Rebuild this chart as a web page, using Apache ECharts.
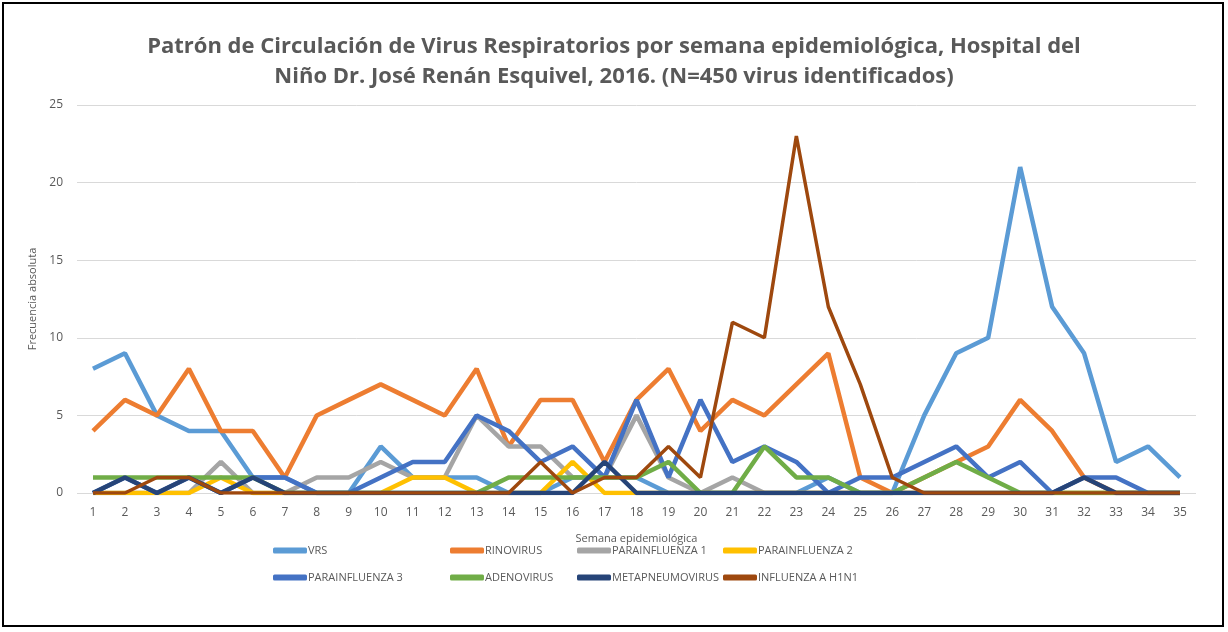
<!DOCTYPE html>
<html>
<head>
<meta charset="utf-8">
<script src="https://cdn.jsdelivr.net/npm/echarts@6/dist/echarts.min.js"></script>
<style>
  html, body { margin: 0; padding: 0; background: #fff; }
  #main { width: 1228px; height: 632px; }
</style>
</head>
<body>
<div id="main"></div>
<script>
// semanas epidemiológicas 1..35
var semanas = ['1','2','3','4','5','6','7','8','9','10','11','12','13','14','15','16','17','18','19','20','21','22','23','24','25','26','27','28','29','30','31','32','33','34','35'];

var vrs            = [8, 9, 5, 4, 4, 1, 1, 0, 0, 3, 1, 1, 1, 0, 0, 1, 1, 1, 0, 0, 0, 0, 0, 1, 0, 0, 5, 9, 10, 21, 12, 9, 2, 3, 1];
var rinovirus      = [4, 6, 5, 8, 4, 4, 1, 5, 6, 7, 6, 5, 8, 3, 6, 6, 2, 6, 8, 4, 6, 5, 7, 9, 1, 0, 1, 2, 3, 6, 4, 1, 0, 0, 0];
var parainf1       = [0, 0, 0, 0, 2, 0, 0, 1, 1, 2, 1, 1, 5, 3, 3, 1, 1, 5, 1, 0, 1, 0, 0, 0, 0, 0, 0, 0, 0, 0, 0, 0, 0, 0, 0];
var parainf2       = [0, 0, 0, 0, 1, 0, 0, 0, 0, 0, 1, 1, 0, 0, 0, 2, 0, 0, 0, 0, 0, 0, 0, 0, 0, 0, 0, 0, 0, 0, 0, 0, 0, 0, 0];
var parainf3       = [0, 1, 0, 1, 0, 1, 1, 0, 0, 1, 2, 2, 5, 4, 2, 3, 1, 6, 1, 6, 2, 3, 2, 0, 1, 1, 2, 3, 1, 2, 0, 1, 1, 0, 0];
var adenovirus     = [1, 1, 1, 1, 1, 1, 0, 0, 0, 0, 0, 0, 0, 1, 1, 1, 1, 1, 2, 0, 0, 3, 1, 1, 0, 0, 1, 2, 1, 0, 0, 0, 0, 0, 0];
var metapneumo     = [0, 1, 0, 1, 0, 1, 0, 0, 0, 0, 0, 0, 0, 0, 0, 0, 2, 0, 0, 0, 0, 0, 0, 0, 0, 0, 0, 0, 0, 0, 0, 1, 0, 0, 0];
var h1n1           = [0, 0, 1, 1, 0, 0, 0, 0, 0, 0, 0, 0, 0, 0, 2, 0, 1, 1, 3, 1, 11, 10, 23, 12, 7, 1, 0, 0, 0, 0, 0, 0, 0, 0, 0];

var nombres = ['VRS', 'RINOVIRUS', 'PARAINFLUENZA 1', 'PARAINFLUENZA 2', 'PARAINFLUENZA 3', 'ADENOVIRUS', 'METAPNEUMOVIRUS', 'INFLUENZA A H1N1'];
var colores = ['#5b9bd5', '#ed7d31', '#a5a5a5', '#ffc000', '#4472c4', '#70ad47', '#264478', '#9e480e'];
var valores = [vrs, rinovirus, parainf1, parainf2, parainf3, adenovirus, metapneumo, h1n1];

var font = "'Open Sans', sans-serif";
var gris = '#595959';

var myChart = echarts.init(document.getElementById('main'));

// leyenda en 2 filas x 4 columnas, una leyenda por elemento
var colX = [268, 445, 572, 718];
var filaY = [540, 567];
var leyendas = nombres.map(function (n, i) {
    return {
        left: colX[i % 4],
        top: filaY[Math.floor(i / 4)],
        icon: 'roundRect',
        itemWidth: 34,
        itemHeight: 6,
        itemGap: 0,
        textStyle: { fontFamily: font, fontSize: 11, color: gris, padding: [0, 0, 0, -4] },
        data: [n]
    };
});

var series = nombres.map(function (n, i) {
    return {
        name: n,
        type: 'line',
        data: valores[i],
        symbol: 'none',
        lineStyle: { width: i === 7 ? 3.5 : 4.5, color: colores[i] },
        itemStyle: { color: colores[i] },
        z: 2 + i
    };
});

var option = {
    backgroundColor: '#fff',
    animation: false,
    color: colores,
    title: {
        text: 'Patrón de Circulación de Virus Respiratorios por semana epidemiológica, Hospital del\nNiño Dr. José Renán Esquivel, 2016. (N=450 virus identificados)',
        left: 'center',
        top: 27,
        textStyle: {
            fontFamily: font,
            fontWeight: 'bold',
            fontSize: 22,
            lineHeight: 30,
            color: gris
        }
    },
    legend: leyendas,
    grid: {
        left: 77,
        right: 32,
        top: 105,
        bottom: 139
    },
    xAxis: {
        type: 'category',
        data: semanas,
        boundaryGap: true,
        name: 'Semana epidemiológica',
        nameLocation: 'middle',
        nameGap: 40,
        nameTextStyle: { fontFamily: font, fontSize: 11, color: gris },
        axisLine: { show: false },
        axisTick: { show: false },
        axisLabel: { fontFamily: font, fontSize: 12, color: gris, margin: 14, interval: 0 }
    },
    yAxis: {
        type: 'value',
        min: 0,
        max: 25,
        interval: 5,
        name: 'Frecuencia absoluta',
        nameLocation: 'middle',
        nameGap: 32,
        nameTextStyle: { fontFamily: font, fontSize: 11, color: gris },
        axisLine: { show: false },
        axisTick: { show: false },
        axisLabel: { fontFamily: font, fontSize: 12, color: gris, margin: 14 },
        splitLine: { lineStyle: { color: '#d9d9d9', width: 1 } }
    },
    graphic: [{
        type: 'rect',
        shape: { x: 3, y: 3, width: 1220, height: 623 },
        style: { fill: 'none', stroke: '#000', lineWidth: 2 },
        silent: true
    }],
    series: series
};

myChart.setOption(option);
</script>
</body>
</html>
